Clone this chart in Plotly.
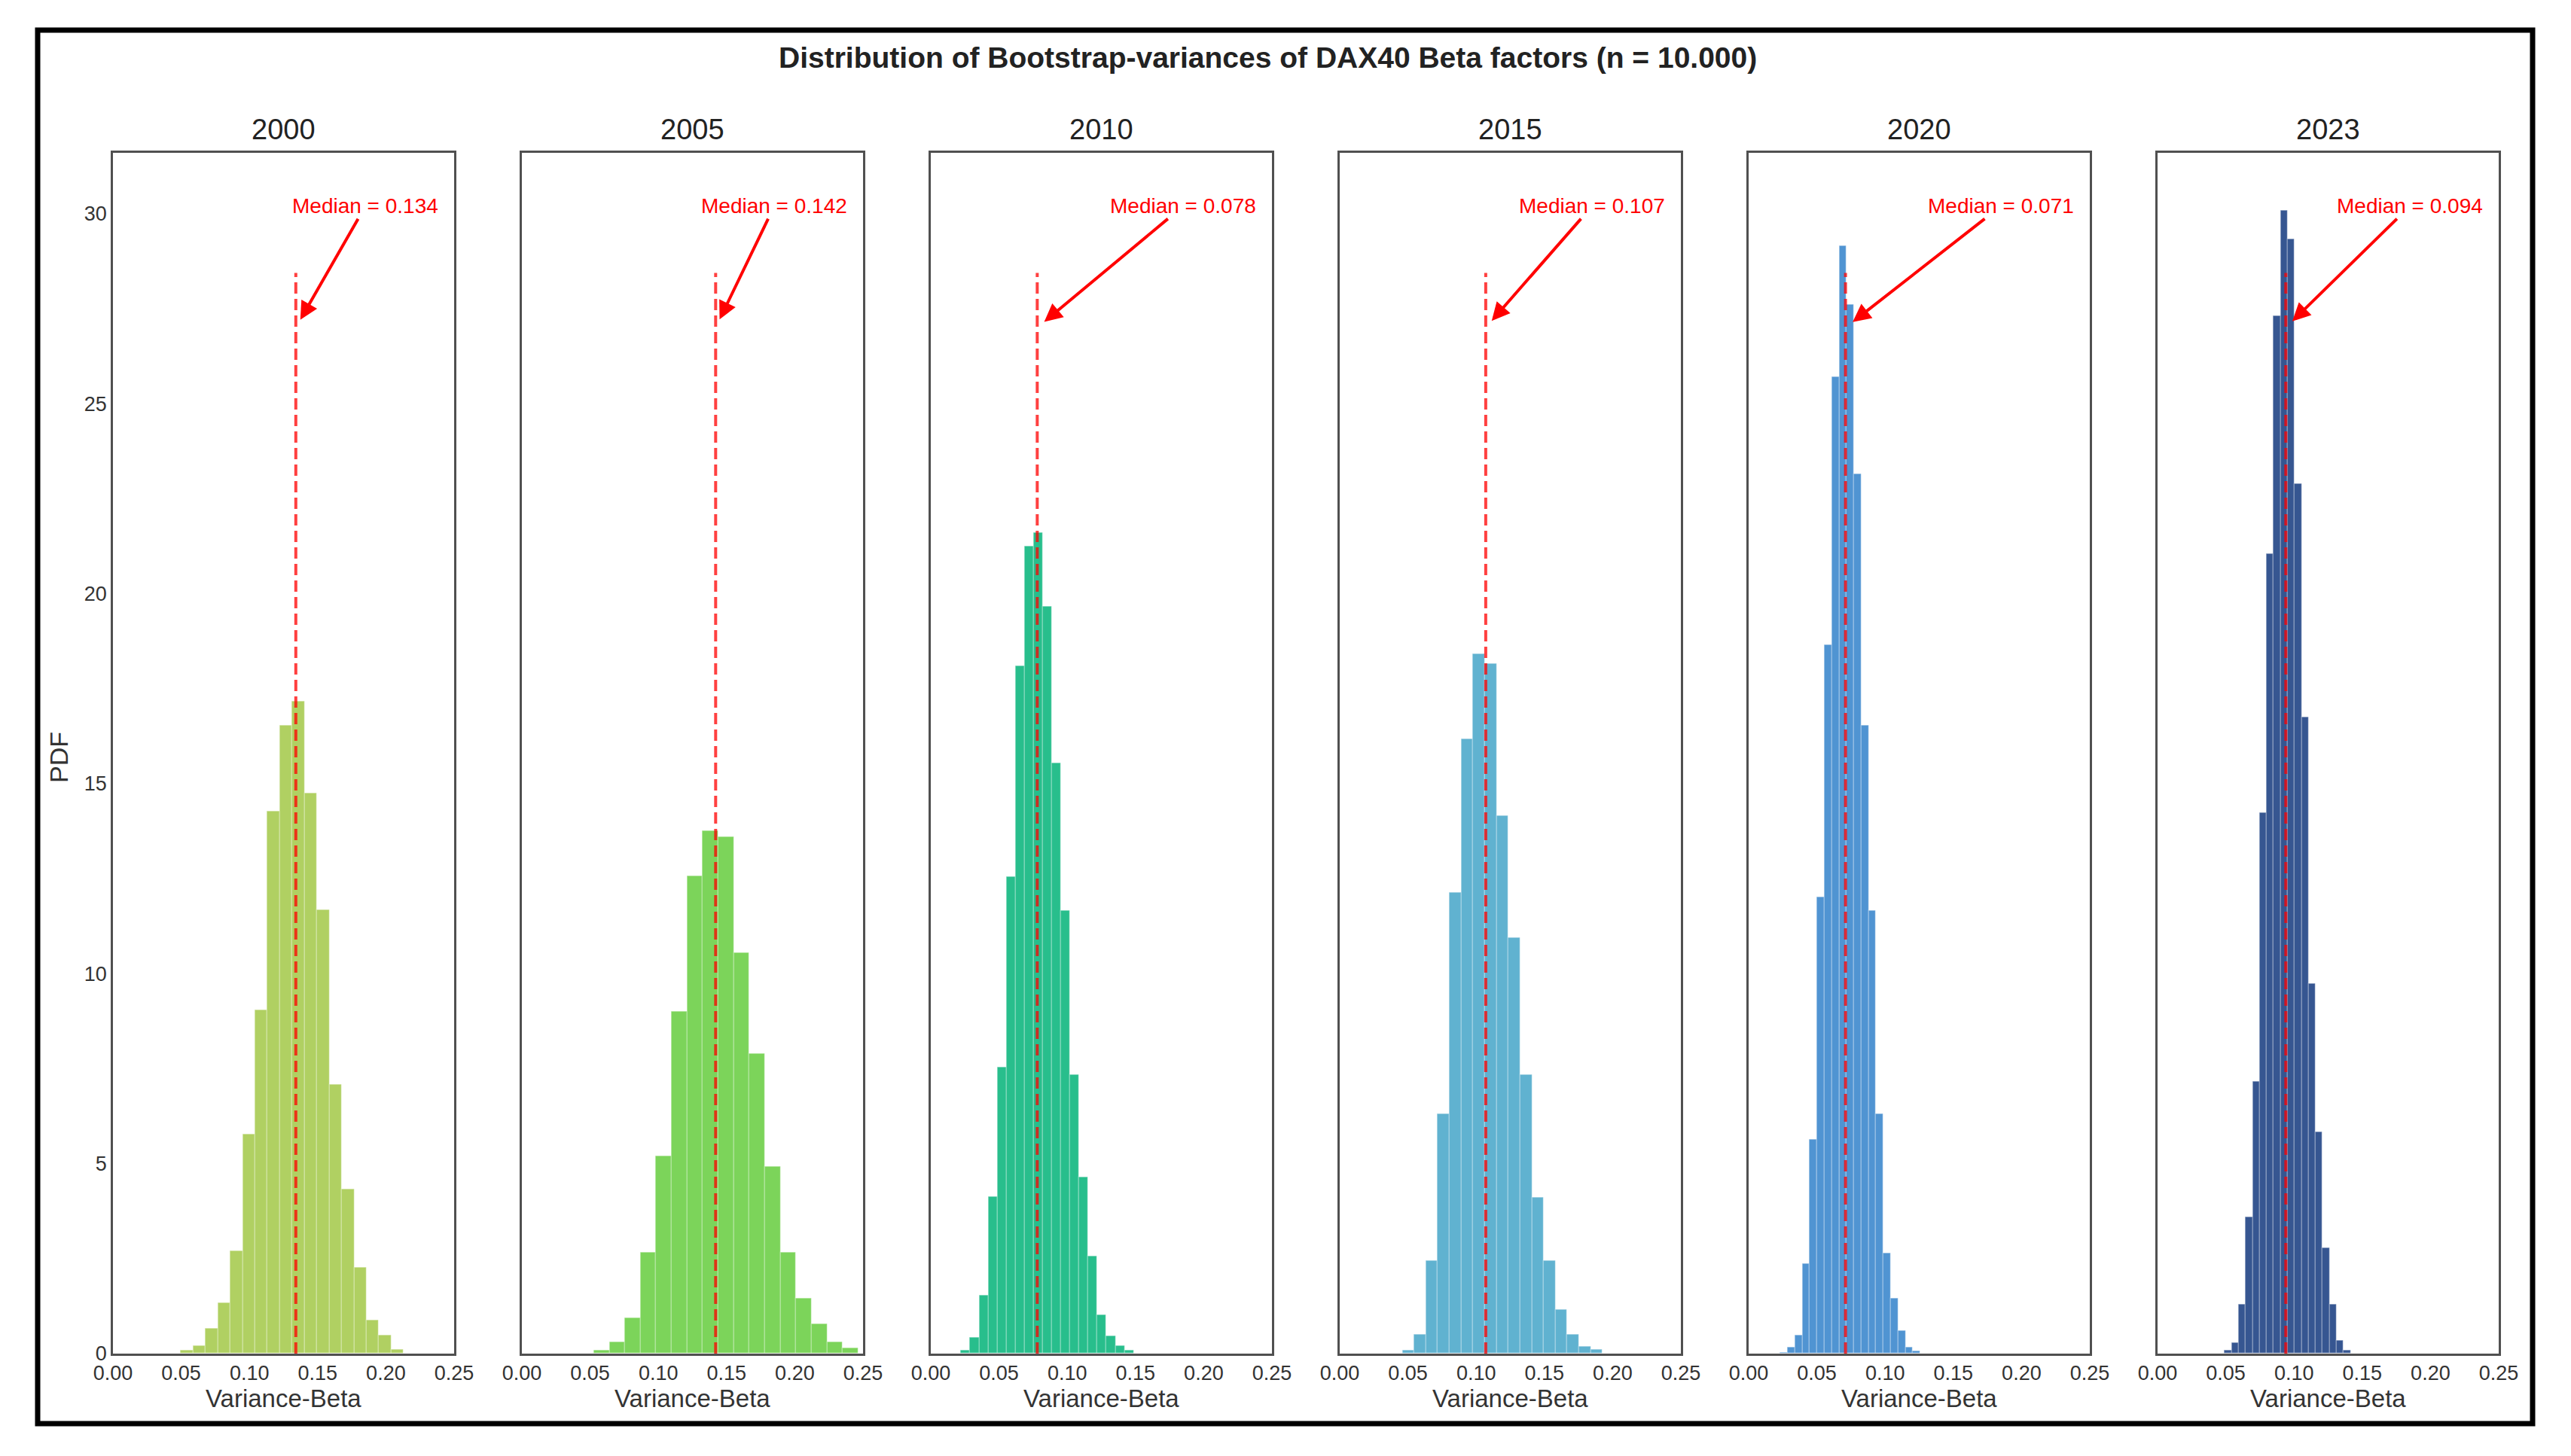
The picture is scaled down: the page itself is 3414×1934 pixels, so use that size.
import plotly.graph_objects as go

# ---------------- data ----------------
years = ["2000", "2005", "2010", "2015", "2020", "2023"]
medians = [0.134, 0.142, 0.078, 0.107, 0.071, 0.094]

# histogram bins (left edge of first bin, bin width) per year
bin_start = [0.0498, 0.0529, 0.0223, 0.0461, 0.0233, 0.0493]
bin_width = [0.00908, 0.0114, 0.00666, 0.00863, 0.0054, 0.00513]

pdf_2000 = [0.07, 0.20, 0.65, 1.33, 2.69, 5.76, 9.03, 14.27, 16.52, 17.16,
            14.74, 11.67, 7.07, 4.31, 2.26, 0.88, 0.47, 0.09]
pdf_2005 = [0.07, 0.29, 0.93, 2.66, 5.19, 9.00, 12.57, 13.75, 13.59, 10.54,
            7.88, 4.92, 2.66, 1.44, 0.77, 0.29, 0.14]
pdf_2010 = [0.07, 0.41, 1.53, 4.13, 7.52, 12.55, 18.08, 21.24, 21.60, 19.66,
            15.53, 11.65, 7.34, 4.63, 2.55, 1.02, 0.45, 0.20, 0.07]
pdf_2015 = [0.07, 0.50, 2.44, 6.30, 12.12, 16.16, 18.40, 18.15, 14.15, 10.93,
            7.34, 4.11, 2.44, 1.15, 0.50, 0.18, 0.09]
pdf_2020 = [0.02, 0.16, 0.47, 2.35, 5.62, 12.00, 18.65, 25.70, 29.14, 27.60,
            23.14, 16.52, 11.65, 6.30, 2.64, 1.44, 0.59, 0.16, 0.05]
pdf_2023 = [0.07, 0.27, 1.29, 3.59, 7.16, 14.22, 21.04, 27.31, 30.07, 29.32,
            22.89, 16.75, 9.73, 5.82, 2.78, 1.29, 0.34, 0.07]
pdfs = [pdf_2000, pdf_2005, pdf_2010, pdf_2015, pdf_2020, pdf_2023]

colors = ["#b0d062", "#7cd45a", "#28be8c", "#60b2d0", "#5094d2", "#365691"]

x_ticks = [0.0, 0.05, 0.10, 0.15, 0.20, 0.25]
y_ticks = [0, 5, 10, 15, 20, 25, 30]

title_text = "Distribution of Bootstrap-variances of DAX40 Beta factors (n = 10.000)"
x_title = "Variance-Beta"
y_title = "PDF"

# ---------------- layout geometry ----------------
W, H = 3414, 1934
FONT = "Liberation Sans, Arial, sans-serif"
y_max = 31.6
panel_w = 453
panel_step = 543
panel_left0 = 150
dom_y = [1 - 1798 / H, 1 - 203 / H]

fig = go.Figure()
annotations = []

for i, yr in enumerate(years):
    n = "" if i == 0 else str(i + 1)
    xa, ya = "x" + n, "y" + n
    centers = [bin_start[i] + bin_width[i] * (k + 0.5) for k in range(len(pdfs[i]))]
    fig.add_trace(go.Bar(
        x=centers, y=pdfs[i], width=bin_width[i],
        marker=dict(color=colors[i], line=dict(color="rgba(255,255,255,0.22)", width=1.5)),
        xaxis=xa, yaxis=ya, showlegend=False))
    fig.add_trace(go.Scatter(
        x=[medians[i], medians[i]], y=[0, 0.9 * y_max], mode="lines",
        line=dict(color="rgba(255,0,0,0.75)", width=4, dash="15px,7px"),
        xaxis=xa, yaxis=ya, showlegend=False, hoverinfo="skip"))

    left = panel_left0 + panel_step * i
    fig.layout["xaxis" + n] = dict(
        domain=[left / W, (left + panel_w) / W], range=[0, 0.25], anchor=ya,
        tickvals=x_ticks, tickformat=".2f", ticks="", showgrid=False, zeroline=False,
        showline=True, mirror=True, linecolor="#505050", linewidth=2.5,
        tickfont=dict(family=FONT, size=27, color="#333"), automargin=False)
    fig.layout["yaxis" + n] = dict(
        domain=dom_y, range=[0, y_max], anchor=xa,
        tickvals=y_ticks, ticks="", showgrid=False, zeroline=False,
        showticklabels=(i == 0),
        showline=True, mirror=True, linecolor="#505050", linewidth=2.5,
        tickfont=dict(family=FONT, size=27, color="#333"), automargin=False)

    cx = (left + panel_w / 2) / W
    # subplot title
    annotations.append(dict(text=yr, x=cx, y=1 - 172 / H, xref="paper", yref="paper",
                            showarrow=False, xanchor="center", yanchor="middle",
                            font=dict(family=FONT, size=38, color="#222")))
    # x-axis title
    annotations.append(dict(text=x_title, x=cx, y=1 - 1857 / H, xref="paper", yref="paper",
                            showarrow=False, xanchor="center", yanchor="middle",
                            font=dict(family=FONT, size=33, color="#333")))
    # median annotation with arrow
    annotations.append(dict(text=f"Median = {medians[i]:.3f}", x=medians[i], y=27,
                            xref=xa, yref=ya, ax=0.185, ay=30.2, axref=xa, ayref=ya,
                            showarrow=True, arrowhead=2, arrowsize=1.2, arrowwidth=4,
                            arrowcolor="#ff0000", standoff=12,
                            font=dict(family=FONT, size=28, color="#ff0000")))

annotations.append(dict(text=y_title, x=78 / W, y=1 - 1006 / H, xref="paper", yref="paper",
                        showarrow=False, textangle=-90, xanchor="center", yanchor="middle",
                        font=dict(family=FONT, size=34, color="#333")))
annotations.append(dict(text=title_text, x=1683 / W, y=1 - 76 / H, xref="paper", yref="paper",
                        showarrow=False, xanchor="center", yanchor="middle",
                        font=dict(family=FONT, size=39, color="#222", weight="bold")))

fig.update_layout(
    width=W, height=H, margin=dict(l=0, r=0, t=0, b=0),
    paper_bgcolor="white", plot_bgcolor="white", bargap=0,
    annotations=annotations,
    shapes=[dict(type="rect", xref="paper", yref="paper",
                 x0=50 / W, x1=3363 / W, y0=1 - 1891 / H, y1=1 - 40 / H,
                 line=dict(color="black", width=7))],
)

fig.write_html("out.html")
